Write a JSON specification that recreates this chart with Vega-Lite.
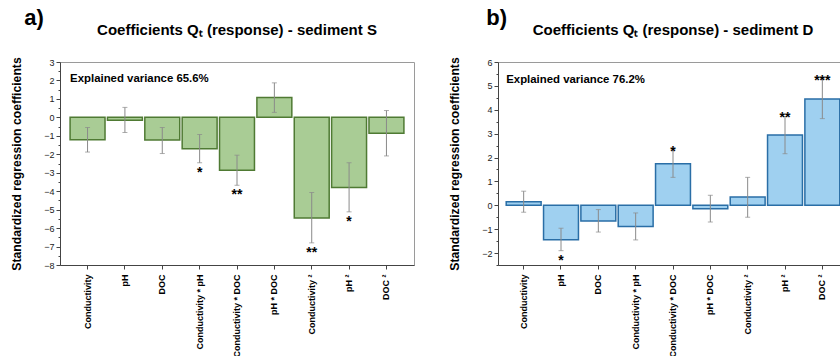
{
  "$schema": "https://vega.github.io/schema/vega-lite/v6.json",
  "padding": {"left": 10, "top": 7, "right": 0, "bottom": 0},
  "background": "white",
  "config": {
    "font": "Liberation Sans",
    "view": {"stroke": "#9a9a9a", "strokeWidth": 1},
    "concat": {"spacing": 33},
    "axis": {"labelFont": "Liberation Sans", "titleFont": "Liberation Sans"}
  },
  "datasets": {
    "S": [
      {"term": "Conductivity", "coef": -1.21, "lo": -1.88, "hi": -0.55, "sig": ""},
      {"term": "pH", "coef": -0.16, "lo": -0.82, "hi": 0.54, "sig": ""},
      {"term": "DOC", "coef": -1.23, "lo": -1.96, "hi": -0.55, "sig": ""},
      {"term": "Conductivity * pH", "coef": -1.7, "lo": -2.46, "hi": -0.93, "sig": "*"},
      {"term": "Conductivity * DOC", "coef": -2.86, "lo": -3.68, "hi": -2.05, "sig": "**"},
      {"term": "pH * DOC", "coef": 1.07, "lo": 0.27, "hi": 1.87, "sig": ""},
      {"term": "Conductivity ²", "coef": -5.45, "lo": -6.8, "hi": -4.07, "sig": "**"},
      {"term": "pH ²", "coef": -3.8, "lo": -5.12, "hi": -2.46, "sig": "*"},
      {"term": "DOC ²", "coef": -0.86, "lo": -2.09, "hi": 0.37, "sig": ""}
    ],
    "D": [
      {"term": "Conductivity", "coef": 0.15, "lo": -0.29, "hi": 0.59, "sig": ""},
      {"term": "pH", "coef": -1.44, "lo": -1.9, "hi": -0.96, "sig": "*"},
      {"term": "DOC", "coef": -0.66, "lo": -1.12, "hi": -0.18, "sig": ""},
      {"term": "Conductivity * pH", "coef": -0.89, "lo": -1.45, "hi": -0.32, "sig": ""},
      {"term": "Conductivity * DOC", "coef": 1.74, "lo": 1.17, "hi": 2.32, "sig": "*"},
      {"term": "pH * DOC", "coef": -0.14, "lo": -0.7, "hi": 0.42, "sig": ""},
      {"term": "Conductivity ²", "coef": 0.35, "lo": -0.5, "hi": 1.17, "sig": ""},
      {"term": "pH ²", "coef": 2.94, "lo": 2.16, "hi": 3.72, "sig": "**"},
      {"term": "DOC ²", "coef": 4.45, "lo": 3.63, "hi": 5.29, "sig": "***"}
    ]
  },
  "hconcat": [
    {
      "title": {"text": "a)", "anchor": "start", "frame": "bounds", "fontSize": 22, "fontWeight": "bold", "font": "Liberation Sans", "dx": 14, "dy": 12, "color": "#000"},
      "vconcat": [
        {
          "title": {"text": "Coefficients Qₜ (response) - sediment S", "anchor": "middle", "frame": "group", "fontSize": 15, "fontWeight": "bold", "font": "Liberation Sans", "color": "#000", "offset": 10, "dy": -9},
          "width": 354,
          "height": 203,
          "resolve": {"axis": {"x": "independent", "y": "independent"}},
          "layer": [
            {
              "data": {"name": "S"},
              "encoding": {
                "x": {
                  "field": "term", "type": "nominal", "sort": null,
                  "scale": {"paddingInner": 0.065, "paddingOuter": 0.27},
                  "axis": {"title": null, "labelAngle": -90, "labelAlign": "right", "labelBaseline": "middle", "labelFontSize": 9, "labelFontWeight": "bold", "labelColor": "#000", "labelPadding": 5, "tickSize": 4, "tickColor": "#444", "domainColor": "#444", "labelLimit": 200}
                },
                "y": {
                  "field": "coef", "type": "quantitative",
                  "scale": {"domain": [-8, 3], "nice": false, "zero": false},
                  "axis": {
                    "title": "Standardized regression coefficients", "titleFontSize": 12.2, "titleFontWeight": "bold", "titleColor": "#000", "titlePadding": 20,
                    "values": [-8, -7.5, -7, -6.5, -6, -5.5, -5, -4.5, -4, -3.5, -3, -2.5, -2, -1.5, -1, -0.5, 0, 0.5, 1, 1.5, 2, 2.5, 3],
                    "format": ".0f",
                    "labelExpr": "abs(datum.value % 1) < 0.01 ? datum.label : ''",
                    "labelOverlap": false,
                    "tickSize": {"condition": {"test": "abs(datum.value % 1) > 0.01", "value": 2}, "value": 4},
                    "labelFontSize": 9, "labelColor": "#222", "labelPadding": 2,
                    "grid": false, "tickColor": "#444", "domainColor": "#444"
                  }
                }
              },
              "layer": [
                {
                  "mark": {"type": "bar", "fill": "#a9cc95", "stroke": "#4f7a33", "strokeWidth": 1.5},
                  "encoding": {"y2": {"datum": 0}}
                },
                {
                  "mark": {"type": "rule", "color": "#222", "strokeWidth": 1},
                  "encoding": {"y": {"datum": 0}}
                },
                {
                  "mark": {"type": "rule", "color": "#8a8a8a", "strokeWidth": 1},
                  "encoding": {"y": {"field": "lo", "type": "quantitative"}, "y2": {"field": "hi"}}
                },
                {
                  "mark": {"type": "tick", "color": "#8a8a8a", "size": 5, "thickness": 1, "orient": "horizontal"},
                  "encoding": {"y": {"field": "lo", "type": "quantitative"}}
                },
                {
                  "mark": {"type": "tick", "color": "#8a8a8a", "size": 5, "thickness": 1, "orient": "horizontal"},
                  "encoding": {"y": {"field": "hi", "type": "quantitative"}}
                },
                {
                  "transform": [{"filter": "datum.coef < 0"}],
                  "mark": {"type": "text", "baseline": "top", "fontSize": 14, "fontWeight": "bold", "dy": 3, "color": "#000"},
                  "encoding": {"y": {"field": "lo", "type": "quantitative"}, "text": {"field": "sig"}}
                },
                {
                  "transform": [{"filter": "datum.coef >= 0"}],
                  "mark": {"type": "text", "baseline": "alphabetic", "fontSize": 14, "fontWeight": "bold", "dy": 6, "color": "#000"},
                  "encoding": {"y": {"field": "hi", "type": "quantitative"}, "text": {"field": "sig"}}
                }
              ]
            },
            {
              "data": {"values": [{"label": "Explained variance 65.6%"}]},
              "mark": {"type": "text", "align": "left", "baseline": "alphabetic", "fontSize": 11.4, "fontWeight": "bold", "color": "#000"},
              "encoding": {
                "x": {"datum": "Conductivity", "bandPosition": 0, "axis": null},
                "y": {"datum": 1.9, "axis": null},
                "text": {"field": "label"}
              }
            }
          ]
        }
      ]
    },
    {
      "title": {"text": "b)", "anchor": "start", "frame": "bounds", "fontSize": 22, "fontWeight": "bold", "font": "Liberation Sans", "dx": 38, "dy": 12, "color": "#000"},
      "vconcat": [
        {
          "title": {"text": "Coefficients Qₜ (response) - sediment D", "anchor": "middle", "frame": "group", "fontSize": 15, "fontWeight": "bold", "font": "Liberation Sans", "color": "#000", "offset": 10, "dy": -9},
          "width": 350,
          "height": 203,
          "resolve": {"axis": {"x": "independent", "y": "independent"}},
          "layer": [
            {
              "data": {"name": "D"},
              "encoding": {
                "x": {
                  "field": "term", "type": "nominal", "sort": null,
                  "scale": {"paddingInner": 0.065, "paddingOuter": 0.22},
                  "axis": {"title": null, "labelAngle": -90, "labelAlign": "right", "labelBaseline": "middle", "labelFontSize": 9, "labelFontWeight": "bold", "labelColor": "#000", "labelPadding": 5, "tickSize": 4, "tickColor": "#444", "domainColor": "#444", "labelLimit": 200}
                },
                "y": {
                  "field": "coef", "type": "quantitative",
                  "scale": {"domain": [-2.5, 6], "nice": false, "zero": false},
                  "axis": {
                    "title": "Standardized regression coefficients", "titleFontSize": 12.2, "titleFontWeight": "bold", "titleColor": "#000", "titlePadding": 20,
                    "values": [-2.5, -2, -1.5, -1, -0.5, 0, 0.5, 1, 1.5, 2, 2.5, 3, 3.5, 4, 4.5, 5, 5.5, 6],
                    "format": ".0f",
                    "labelExpr": "abs(datum.value % 1) < 0.01 ? datum.label : ''",
                    "labelOverlap": false,
                    "tickSize": {"condition": {"test": "abs(datum.value % 1) > 0.01", "value": 2}, "value": 4},
                    "labelFontSize": 9, "labelColor": "#222", "labelPadding": 2,
                    "grid": false, "tickColor": "#444", "domainColor": "#444"
                  }
                }
              },
              "layer": [
                {
                  "mark": {"type": "bar", "fill": "#9fd0f0", "stroke": "#2a6ea6", "strokeWidth": 1.5},
                  "encoding": {"y2": {"datum": 0}}
                },
                {
                  "mark": {"type": "rule", "color": "#8a8a8a", "strokeWidth": 1},
                  "encoding": {"y": {"datum": 0}}
                },
                {
                  "mark": {"type": "rule", "color": "#8a8a8a", "strokeWidth": 1},
                  "encoding": {"y": {"field": "lo", "type": "quantitative"}, "y2": {"field": "hi"}}
                },
                {
                  "mark": {"type": "tick", "color": "#8a8a8a", "size": 5, "thickness": 1, "orient": "horizontal"},
                  "encoding": {"y": {"field": "lo", "type": "quantitative"}}
                },
                {
                  "mark": {"type": "tick", "color": "#8a8a8a", "size": 5, "thickness": 1, "orient": "horizontal"},
                  "encoding": {"y": {"field": "hi", "type": "quantitative"}}
                },
                {
                  "transform": [{"filter": "datum.coef < 0"}],
                  "mark": {"type": "text", "baseline": "top", "fontSize": 14, "fontWeight": "bold", "dy": 3, "color": "#000"},
                  "encoding": {"y": {"field": "lo", "type": "quantitative"}, "text": {"field": "sig"}}
                },
                {
                  "transform": [{"filter": "datum.coef >= 0"}],
                  "mark": {"type": "text", "baseline": "alphabetic", "fontSize": 14, "fontWeight": "bold", "dy": 6, "color": "#000"},
                  "encoding": {"y": {"field": "hi", "type": "quantitative"}, "text": {"field": "sig"}}
                }
              ]
            },
            {
              "data": {"values": [{"label": "Explained variance 76.2%"}]},
              "mark": {"type": "text", "align": "left", "baseline": "alphabetic", "fontSize": 11.4, "fontWeight": "bold", "color": "#000"},
              "encoding": {
                "x": {"datum": "Conductivity", "bandPosition": 0, "axis": null},
                "y": {"datum": 5.12, "axis": null},
                "text": {"field": "label"}
              }
            }
          ]
        }
      ]
    }
  ]
}
